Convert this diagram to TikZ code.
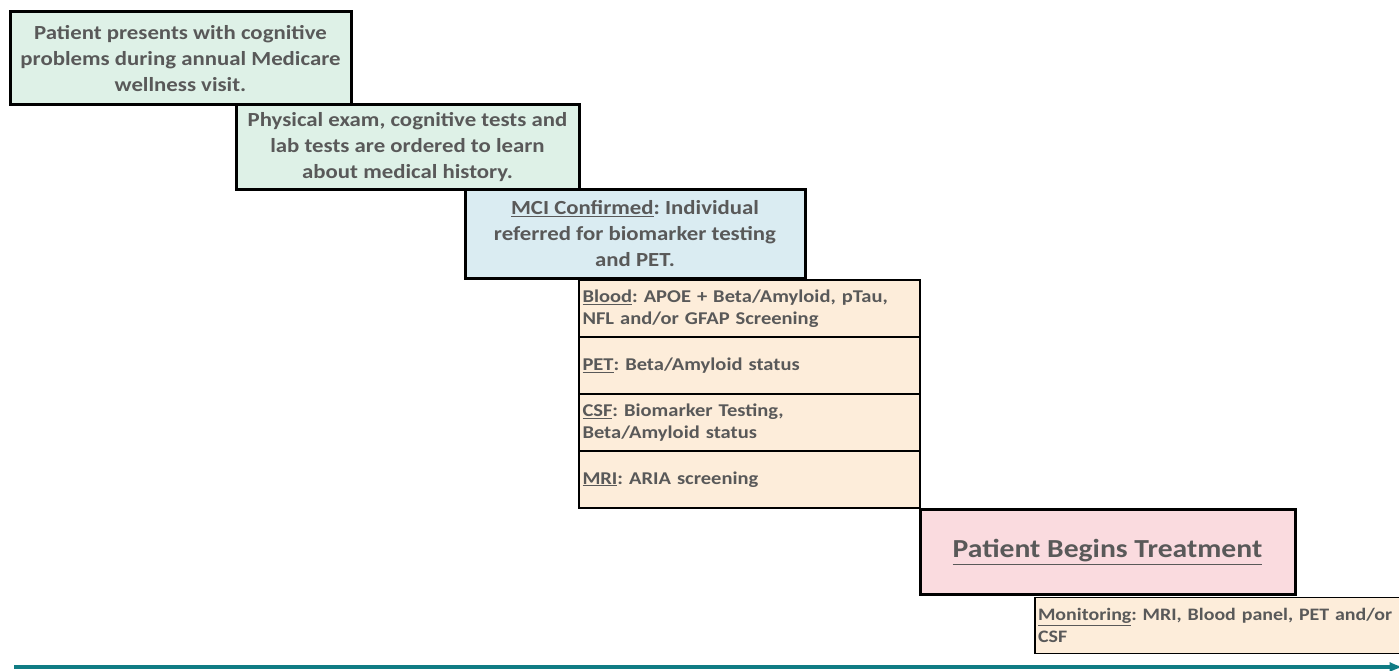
\documentclass[tikz,border=0pt]{standalone}
\usepackage{fontspec}
\setmainfont{Carlito}[FakeStretch=1.14]
\usetikzlibrary{arrows, positioning}
\definecolor{mint}{RGB}{222,241,231}
\definecolor{paleblue}{RGB}{218,236,242}
\definecolor{peach}{RGB}{253,237,218}
\definecolor{blush}{RGB}{250,219,223}
\definecolor{ink}{RGB}{89,89,89}
\definecolor{timeline}{RGB}{16,124,132}
\frenchspacing

\begin{document}
\begin{tikzpicture}[x = 1pt, y = -1pt, node distance = 0pt and 0pt]
        \tikzstyle{stage} = [draw = black, line width = 3pt, inner sep = 0pt, outer sep = 0pt, align = center, text = ink, font = \bfseries\fontsize{20}{26}\selectfont]
        \tikzstyle{item} = [draw = black, line width = 1.2pt, inner sep = 3pt, outer sep = 0pt, align = left, text = ink, fill = peach, minimum width = 341pt, minimum height = 57pt, text width = 334pt, font = \bfseries\fontsize{18}{22}\selectfont]
        \tikzstyle{connect} = [-latex, line width = 3.5pt, draw = timeline]
        \useasboundingbox (0,0) rectangle (1399,671);
        \node[stage, fill = mint, minimum width = 341pt, minimum height = 93pt, anchor = north west] (visit) at (10,12) {Patient presents with cognitive\\problems during annual Medicare\\wellness visit.};
        \node[stage, fill = mint, minimum width = 343pt, minimum height = 85pt, below right = 0pt and -115pt of visit.south east] (exam) {Physical exam, cognitive tests and\\lab tests are ordered to learn\\about medical history.};
        \node[stage, fill = paleblue, minimum width = 340pt, minimum height = 88pt, below right = 0pt and -114pt of exam.south east] (mci) {\underline{MCI Confirmed}: Individual\\referred for biomarker testing\\and PET.};
        \node[item, below right = 2pt and -226pt of mci.south east] (blood) {\underline{Blood}: APOE + Beta/Amyloid, pTau,\\NFL and/or GFAP Screening};
        \node[item, below = of blood] (pet) {\underline{PET}: Beta/Amyloid status};
        \node[item, below = of pet] (csf) {\underline{CSF}: Biomarker Testing,\\Beta/Amyloid status};
        \node[item, below = of csf] (mri) {\underline{MRI}: ARIA screening};
        \node[stage, fill = blush, minimum width = 375pt, minimum height = 85pt, below right = 1.5pt and 0pt of mri.south east, font = \bfseries\fontsize{26}{30}\selectfont] (treat) {\underline{Patient Begins Treatment}};
        \node[item, minimum width = 420pt, minimum height = 56pt, text width = 414pt, inner sep = 2pt, below right = 3pt and -260pt of treat.south east, font = \bfseries\fontsize{17.5}{22}\selectfont] (monitor) {\underline{Monitoring}: MRI, Blood panel, PET and/or\\CSF};
        \coordinate (start) at (14,667);
        \coordinate (end) at (1403,667);
        \draw[connect] (start) -- (end);
      \end{tikzpicture}
\end{document}
